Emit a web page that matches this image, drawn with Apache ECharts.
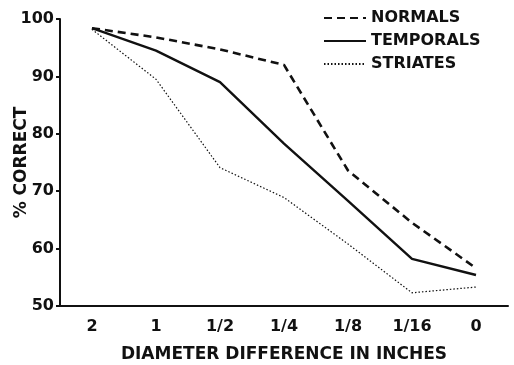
<!DOCTYPE html>
<html>
<head>
<meta charset="utf-8">
<script src="https://cdn.jsdelivr.net/npm/echarts@6/dist/echarts.min.js"></script>
<style>
  html, body { margin: 0; padding: 0; background: #fff; }
  #chart { width: 514px; height: 365px; }
</style>
</head>
<body>
<div id="chart"></div>
<script>
// values
const categories = ['2', '1', '1/2', '1/4', '1/8', '1/16', '0'];
const normals   = [98.4, 96.8, 94.7, 92.0, 73.6, 64.5, 56.6];
const temporals = [98.4, 94.5, 89.0, 78.3, 68.3, 58.2, 55.4];
const striates  = [98.2, 89.5, 74.1, 68.9, 60.8, 52.3, 53.3];
const yTicks = [50, 60, 70, 80, 90, 100];

const ink = '#111';
const font = 'DejaVu Sans';

const chart = echarts.init(document.getElementById('chart'));

chart.setOption({
    animation: false,
    backgroundColor: '#fff',
    grid: { left: 60, right: 6, top: 19, bottom: 59, containLabel: false, outerBoundsMode: 'none' },
    legend: {
        orient: 'vertical',
        left: 318,
        top: 5,
        itemGap: 7,
        itemWidth: 42,
        itemHeight: 12,
        itemStyle: { color: 'rgba(0,0,0,0)', borderWidth: 0 },
        textStyle: { color: ink, fontFamily: font, fontWeight: 'bold', fontSize: 16 },
        data: ['NORMALS', 'TEMPORALS', 'STRIATES']
    },
    xAxis: {
        type: 'category',
        data: categories,
        boundaryGap: true,
        name: 'DIAMETER DIFFERENCE IN INCHES',
        nameLocation: 'middle',
        nameGap: 40,
        nameMoveOverlap: false,
        nameTextStyle: { color: ink, fontFamily: font, fontWeight: 'bold', fontSize: 17 },
        axisLine: { lineStyle: { color: ink, width: 2 } },
        axisTick: { alignWithLabel: true, length: 5, lineStyle: { color: ink, width: 2 } },
        axisLabel: { color: ink, fontFamily: font, fontWeight: 'bold', fontSize: 16, margin: 13 },
        splitLine: { show: false }
    },
    yAxis: {
        type: 'value',
        min: yTicks[0],
        max: yTicks[yTicks.length - 1],
        interval: 10,
        name: '% CORRECT',
        nameLocation: 'middle',
        nameGap: 30,
        nameMoveOverlap: false,
        nameTextStyle: { color: ink, fontFamily: font, fontWeight: 'bold', fontSize: 17 },
        axisLine: { show: true, lineStyle: { color: ink, width: 2 } },
        axisTick: { show: true, length: 4, lineStyle: { color: ink, width: 2 } },
        axisLabel: { color: ink, fontFamily: font, fontWeight: 'bold', fontSize: 16, margin: 6 },
        splitLine: { show: false }
    },
    series: [
        {
            name: 'NORMALS',
            type: 'line',
            symbol: 'none',
            data: normals,
            lineStyle: { color: ink, width: 2.6, type: [8, 5] },
            itemStyle: { color: ink }
        },
        {
            name: 'TEMPORALS',
            type: 'line',
            symbol: 'none',
            data: temporals,
            lineStyle: { color: ink, width: 2.4, type: 'solid' },
            itemStyle: { color: ink }
        },
        {
            name: 'STRIATES',
            type: 'line',
            symbol: 'none',
            data: striates,
            lineStyle: { color: ink, width: 1.2, type: [1.5, 2] },
            itemStyle: { color: ink }
        }
    ]
});
</script>
</body>
</html>
